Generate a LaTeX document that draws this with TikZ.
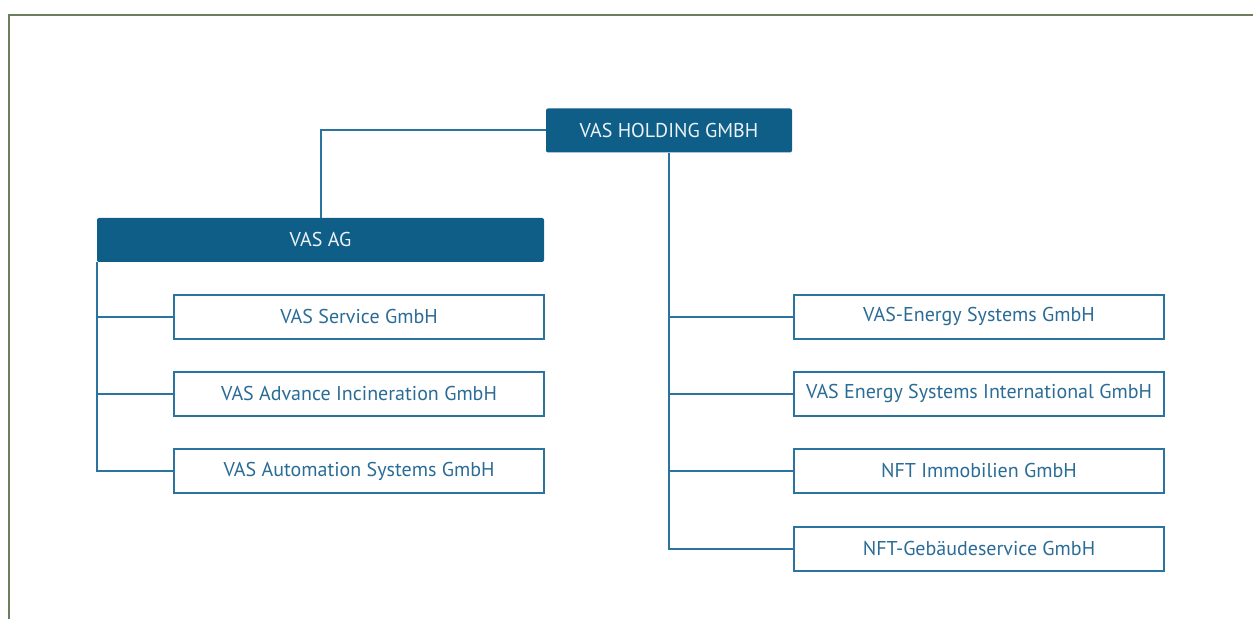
\documentclass[tikz,border=0pt]{standalone}
\usepackage{fontspec}
\setmainfont{PT Sans}
\definecolor{vasdark}{HTML}{0E5E88}
\definecolor{vasline}{HTML}{2C74A0}
\definecolor{vastext}{HTML}{2B6C96}
\definecolor{framegreen}{HTML}{6B7F5F}
\begin{document}
\begin{tikzpicture}[
    x=0.5pt, y=-0.5pt,
    head/.style={rectangle, rounded corners=1pt, fill=vasdark, text=white!92!vasdark, minimum height=22pt, inner sep=0pt, font=\fontsize{10}{12}\selectfont},
    firm/.style={draw=vasline, line width=1pt, rectangle, fill=white, text=vastext, minimum width=185pt, minimum height=22pt, inner sep=0pt, font=\fontsize{10}{12}\selectfont},
    link/.style={draw=vasline, line width=1pt}
]
    \useasboundingbox (0,0) rectangle (1253,619);
    % Rahmen
    \draw[framegreen, line width=1pt] (9,619) -- (9,15) -- (1253,15);

    % Holding und AG
    \node[head, minimum width=123pt] (holding) at (669,130.5) {VAS HOLDING GMBH};
    \node[head, minimum width=223.5pt] (vasag) at (320.5,240) {VAS AG};

    % Toechter der AG
    \node[firm] (service) at (359,317) {VAS Service GmbH};
    \node[firm] (advance) at (359,394) {VAS Advance Incineration GmbH};
    \node[firm] (automation) at (359,471) {VAS Automation Systems GmbH};

    % Toechter der Holding
    \node[firm] (energy) at (979,317) {VAS-Energy Systems GmbH};
    \node[firm] (international) at (979,394) {VAS Energy Systems International GmbH};
    \node[firm] (immobilien) at (979,471) {NFT Immobilien GmbH};
    \node[firm] (gebaeude) at (979,549) {NFT-Gebäudeservice GmbH};

    % Verbindungen
    \draw[link] (holding.west) -| (vasag.north);
    \foreach \kid in {service, advance, automation}
        \draw[link] (vasag.south west) |- (\kid.west);
    \foreach \kid in {energy, international, immobilien, gebaeude}
        \draw[link] (holding.south) |- (\kid.west);

\end{tikzpicture}
\end{document}
